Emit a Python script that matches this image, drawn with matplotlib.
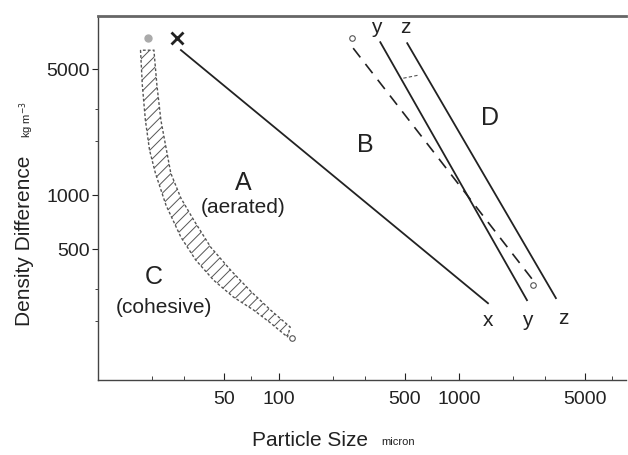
import matplotlib
matplotlib.use("Agg")
import matplotlib.pyplot as plt
from matplotlib.ticker import FixedLocator, NullFormatter

plt.rcParams['font.family'] = ['Liberation Sans', 'DejaVu Sans']
plt.rcParams['hatch.linewidth'] = 0.7

# ---- data (particle size in micron, density difference in kg/m3) ----
# A/B boundary (x-x)
ab_x = [28.8, 1445]
ab_y = [6400, 251]
# B/D boundary (y-y)
bd_y_x = [366, 2376]
bd_y_y = [7080, 261]
# B/D boundary (z-z)
bd_z_x = [516, 3436]
bd_z_y = [6990, 268]
# dashed spouting boundary
sp_x = [259, 2565]
sp_y = [6560, 337]
# short connector between y and z lines
conn_x = [491, 593]
conn_y = [4467, 4640]
# C/A hatched band, left edge
cl_x = [17.2, 17.6, 18.3, 19.3, 20.8, 23.8, 28.8, 34.8, 43.7, 56.4, 72.8, 90.3, 112]
cl_y = [6390, 4083, 2610, 1778, 1325, 880, 584, 436, 337, 271, 230, 195, 163]
# C/A hatched band, right edge
cr_x = [20.4, 21.2, 22.3, 25.3, 28.8, 33.9, 42.1, 54.3, 70.0, 90.3, 116]
cr_y = [6390, 4083, 2610, 1325, 962, 727, 514, 383, 293, 230, 185]

x_major = [50, 100, 500, 1000, 5000]
x_major_labels = ['50', '100', '500', '1000', '5000']
x_minor = [20, 30, 70, 200, 300, 700, 2000, 3000, 7000]
y_major = [500, 1000, 5000]
y_major_labels = ['500', '1000', '5000']
y_minor = [200, 300, 2000, 3000]

W, H = 628, 455
fig = plt.figure(figsize=(W / 100, H / 100), dpi=100)
ax = fig.add_axes([98 / W, 1 - 380 / H, (626 - 98) / W, (380 - 16) / H])
ax.set_xscale('log')
ax.set_yscale('log')
ax.set_xlim(10, 8400)
ax.set_ylim(94, 9900)

lc = '#222222'
ax.plot(ab_x, ab_y, color=lc, lw=1.3)
ax.plot(bd_y_x, bd_y_y, color=lc, lw=1.3)
ax.plot(bd_z_x, bd_z_y, color=lc, lw=1.3)
ax.plot(sp_x, sp_y, color=lc, lw=1.2, ls=(0, (7, 5)))
ax.plot(conn_x, conn_y, color='#555555', lw=0.8, ls=(0, (3, 2)))

band_x = cl_x + cr_x[::-1]
band_y = cl_y + cr_y[::-1]
ax.fill(band_x, band_y, facecolor='none', edgecolor='#555555', hatch='///',
        lw=1.0, ls=(0, (2, 1.5)))

# small circles at line ends
ax.plot([18.9], [7450], 'o', ms=5, color='#aaaaaa', mec='#aaaaaa')
ax.plot([119, 256, 2565], [161, 7450, 316], 'o', ms=4, mfc='white', mec='#555555', mew=0.8)
# cross marker at top of A/B boundary
ax.plot([27.3], [7450], 'x', ms=8, mew=2.0, color='#222222')

tc = '#222222'
ax.text(348, 8580, 'y', fontsize=15, ha='center', va='center', color=tc)
ax.text(503, 8580, 'z', fontsize=15, ha='center', va='center', color=tc)
ax.text(1446, 202, 'x', fontsize=15, ha='center', va='center', color=tc)
ax.text(2377, 202, 'y', fontsize=15, ha='center', va='center', color=tc)
ax.text(3758, 207, 'z', fontsize=15, ha='center', va='center', color=tc)

ax.text(64, 1166, 'A', fontsize=18, ha='center', va='center', color=tc)
ax.text(64, 858, '(aerated)', fontsize=15, ha='center', va='center', color=tc)
ax.text(303, 1896, 'B', fontsize=18, ha='center', va='center', color=tc)
ax.text(20.4, 350, 'C', fontsize=18, ha='center', va='center', color=tc)
ax.text(23.2, 239, '(cohesive)', fontsize=15, ha='center', va='center', color=tc)
ax.text(1483, 2680, 'D', fontsize=18, ha='center', va='center', color=tc)

ax.xaxis.set_major_locator(FixedLocator(x_major))
ax.set_xticklabels(x_major_labels)
ax.xaxis.set_minor_locator(FixedLocator(x_minor))
ax.xaxis.set_minor_formatter(NullFormatter())
ax.yaxis.set_major_locator(FixedLocator(y_major))
ax.set_yticklabels(y_major_labels)
ax.yaxis.set_minor_locator(FixedLocator(y_minor))
ax.yaxis.set_minor_formatter(NullFormatter())

ax.tick_params(axis='x', which='both', direction='in', labelsize=14, colors=tc, pad=8)
ax.tick_params(axis='x', which='major', length=5)
ax.tick_params(axis='x', which='minor', length=3)
ax.tick_params(axis='y', which='both', direction='out', labelsize=14, colors=tc, pad=2)
ax.tick_params(axis='y', which='major', length=4)
ax.tick_params(axis='y', which='minor', length=2)

ax.spines['right'].set_visible(False)
ax.spines['top'].set_linewidth(2.0)
ax.spines['top'].set_color('#666666')
for s in ['left', 'bottom']:
    ax.spines[s].set_color('#444444')
    ax.spines[s].set_linewidth(1.0)

# axis labels
fig.text(310 / W, 1 - 441 / H, 'Particle Size', fontsize=15, ha='center', va='center', color=tc)
fig.text(398 / W, 1 - 442 / H, 'micron', fontsize=8, ha='center', va='center', color=tc)
fig.text(25 / W, 1 - 241 / H, 'Density Difference', fontsize=15, rotation=90,
         ha='center', va='center', color=tc)
fig.text(27 / W, 1 - 120 / H, 'kg m$^{-3}$', fontsize=8, rotation=90,
         ha='center', va='center', color=tc)

fig.savefig('out.png', dpi=100)
